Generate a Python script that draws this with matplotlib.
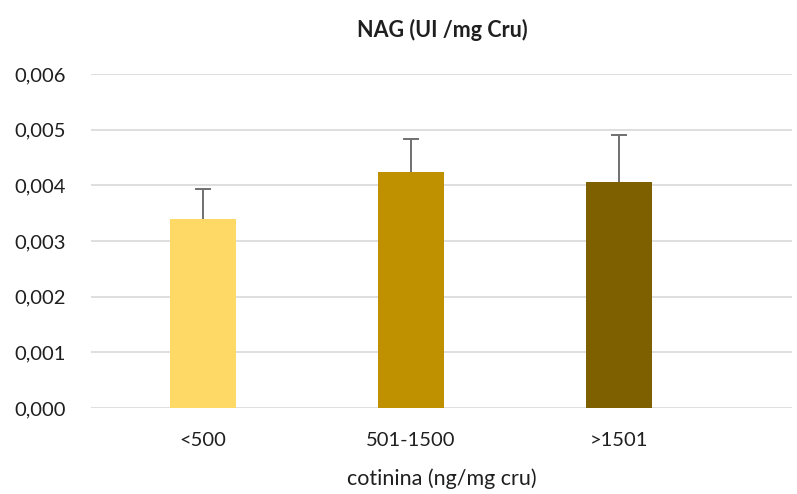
import matplotlib.pyplot as plt
from matplotlib.ticker import FuncFormatter

categories = ['<500', '501-1500', '>1501']
means = [0.00340, 0.00424, 0.00406]
errors = [0.00053, 0.00059, 0.00084]
colors = ['#FFD966', '#BF9000', '#7F6000']
yticks = [0, 0.001, 0.002, 0.003, 0.004, 0.005, 0.006]

plt.rcParams['font.family'] = ['Lato', 'DejaVu Sans']
text_color = '#1f1f1f'

fig = plt.figure(figsize=(7.97, 4.94), dpi=100)
ax = fig.add_axes([91 / 797, 1 - 408 / 494, (792 - 91) / 797, (408 - 74) / 494])

x = list(range(len(categories)))
ax.bar(x, means, width=0.317, color=colors, zorder=2)
eb = ax.errorbar(x, means, yerr=[[0] * len(errors), errors], fmt='none',
                 ecolor='#707070', elinewidth=1.4, capsize=5.5, capthick=1.4, zorder=3)
# only the upper cap, like the original
eb[1][0].set_visible(False)

ax.set_ylim(0, 0.006)
ax.set_xlim(-0.5 - 8 / 208, 2.5 + 69 / 208)
ax.set_yticks(yticks)
ax.yaxis.set_major_formatter(FuncFormatter(lambda v, p: ('%.3f' % v).replace('.', ',')))
ax.set_xticks(x)
ax.set_xticklabels(categories)
ax.grid(axis='y', color='#d9d9d9', linewidth=1.2, zorder=0)
for s in ax.spines.values():
    s.set_visible(False)
ax.tick_params(axis='both', length=0, labelsize=14.5, colors=text_color)
ax.tick_params(axis='y', pad=18)
ax.tick_params(axis='x', pad=17)

ax.set_xlabel('cotinina (ng/mg cru)', fontsize=15.5, color=text_color, labelpad=14)
fig.text(442 / 797, 1 - 30 / 494, 'NAG (UI /mg Cru)', ha='center', va='center',
         fontsize=15.5, fontweight='bold', color=text_color)

fig.savefig('out.png', dpi=100)
